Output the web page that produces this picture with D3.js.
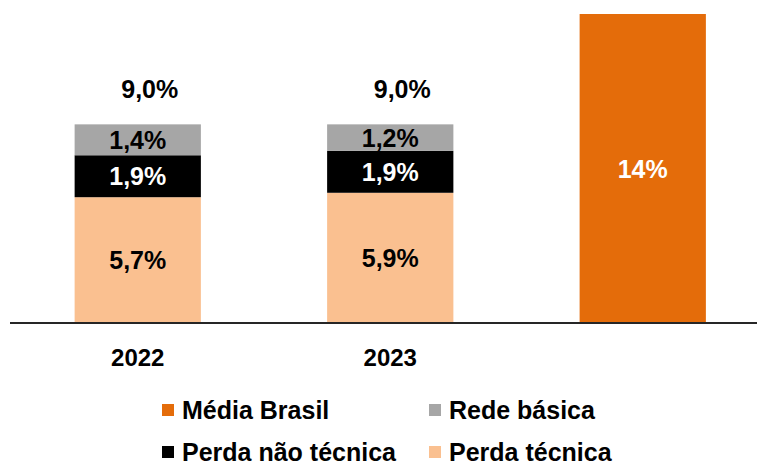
<!DOCTYPE html>
<html><head><meta charset="utf-8">
<script src="https://cdn.jsdelivr.net/npm/d3@7"></script>
<style>body{margin:0;background:#fff}svg{display:block}text{font-family:"Liberation Sans",Arial,sans-serif;font-weight:bold}</style>
</head><body><svg id="c" width="757" height="467"></svg>
<script>
const categories = ["2022", "2023", "Média Brasil"];
const perdaTecnica = [5.7, 5.9, 0];
const perdaNaoTecnica = [1.9, 1.9, 0];
const redeBasica = [1.4, 1.2, 0];
const mediaBrasil = [0, 0, 14];
const totalLabels = ["9,0%", "9,0%", ""];
const seriesNames = ["Perda técnica", "Perda não técnica", "Rede básica", "Média Brasil"];
const colors = {"Perda técnica":"#FAC090","Perda não técnica":"#000000","Rede básica":"#A6A6A6","Média Brasil":"#E46C0A"};
const labelColors = {"Perda técnica":"#000","Perda não técnica":"#fff","Rede básica":"#000","Média Brasil":"#fff"};
const fmt = v => (Number.isInteger(v) ? String(v) : v.toFixed(1).replace(".", ",")) + "%";

const svg = d3.select("#c");
const x = d3.scaleBand().domain(categories).range([11.5, 769]).paddingInner(0.5).paddingOuter(0.25);
const y = d3.scaleLinear().domain([0, 14]).range([323, 14]);

const table = categories.map((c, i) => ({cat: c, "Perda técnica": perdaTecnica[i], "Perda não técnica": perdaNaoTecnica[i], "Rede básica": redeBasica[i], "Média Brasil": mediaBrasil[i]}));
const stack = d3.stack().keys(seriesNames)(table);

stack.forEach(layer => {
  const name = layer.key;
  layer.forEach(d => {
    const v = d[1] - d[0];
    if (v <= 0) return;
    const cat = d.data.cat;
    svg.append("rect").attr("x", x(cat)).attr("width", x.bandwidth())
      .attr("y", y(d[1])).attr("height", y(d[0]) - y(d[1])).attr("fill", colors[name]);
    svg.append("text").attr("x", x(cat) + x.bandwidth()/2).attr("y", (y(d[0]) + y(d[1]))/2)
      .attr("dy", "0.36em").attr("text-anchor", "middle").attr("font-size", 25)
      .attr("fill", labelColors[name]).text(fmt(v));
  });
});

categories.forEach((c, i) => {
  if (!totalLabels[i]) return;
  const top = perdaTecnica[i] + perdaNaoTecnica[i] + redeBasica[i];
  svg.append("text").attr("x", x(c) + x.bandwidth()/2 + 12).attr("y", y(top) - 26)
    .attr("text-anchor", "middle").attr("font-size", 25).attr("fill", "#000").text(totalLabels[i]);
});

svg.append("line").attr("x1", 10).attr("x2", 757).attr("y1", y(0)).attr("y2", y(0))
  .attr("stroke", "#262626").attr("stroke-width", 2);

["2022", "2023"].forEach(c => {
  svg.append("text").attr("x", x(c) + x.bandwidth()/2).attr("y", 366)
    .attr("text-anchor", "middle").attr("font-size", 24).attr("fill", "#000").text(c);
});

const legend = [
  {name: "Média Brasil", x: 162, y: 410},
  {name: "Rede básica", x: 429, y: 410},
  {name: "Perda não técnica", x: 162, y: 452},
  {name: "Perda técnica", x: 429, y: 452}
];
legend.forEach(l => {
  svg.append("rect").attr("x", l.x).attr("y", l.y - 6).attr("width", 12).attr("height", 12).attr("fill", colors[l.name]);
  svg.append("text").attr("x", l.x + 20).attr("y", l.y).attr("dy", "0.36em")
    .attr("font-size", 25).attr("fill", "#000").text(l.name);
});
</script></body></html>
